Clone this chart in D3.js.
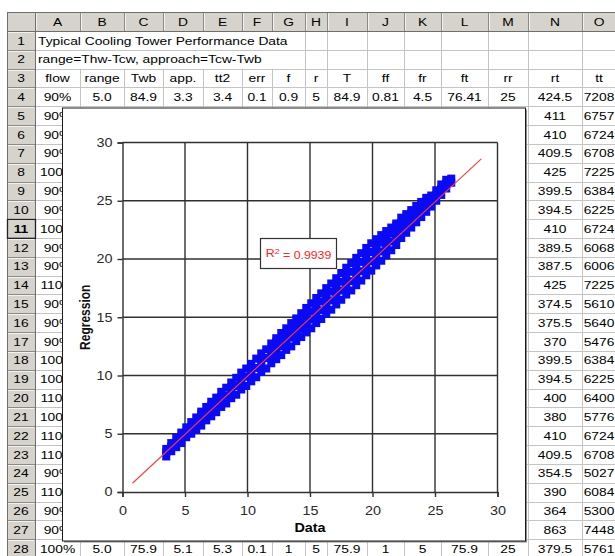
<!DOCTYPE html>
<html>
<head>
<meta charset="utf-8">
<script src="https://cdn.jsdelivr.net/npm/d3@7/dist/d3.min.js"></script>
<style>
  html, body { margin: 0; padding: 0; background: #fff; }
  svg { display: block; font-family: "Liberation Sans", Arial, sans-serif; }
</style>
</head>
<body>
<svg id="sheet" width="615" height="556"></svg>
<script>
// ---- worksheet contents ----
const columnLetters = ["A","B","C","D","E","F","G","H","I","J","K","L","M","N","O"];
const columnEdges   = [35, 80, 124, 163, 203, 242, 272, 305, 327, 367, 404, 441, 488, 528, 582, 616];
const titleText  = "Typical Cooling Tower Performance Data";
const noteText   = "range=Thw-Tcw, approach=Tcw-Twb";
const headerRow  = ["flow","range","Twb","app.","tt2","err","f","r","T","ff","fr","ft","rr","rt","tt"];
const firstRow   = ["90%","5.0","84.9","3.3","3.4","0.1","0.9","5","84.9","0.81","4.5","76.41","25","424.5","7208"];
const lastRow    = ["100%","5.0","75.9","5.1","5.3","0.1","1","5","75.9","1","5","75.9","25","379.5","5761"];
// rows 5..27, columns A, N, O
const flowCol = ["90%","90%","90%","100%","90%","90%","100%","90%","90%","110%","90%","90%","90%",
                 "100%","100%","110%","100%","110%","110%","90%","110%","90%","90%"];
const rtCol   = ["411","410","409.5","425","399.5","394.5","410","389.5","387.5","425","374.5","375.5","370",
                 "399.5","394.5","400","380","410","409.5","354.5","390","364","863"];
const ttCol   = ["6757","6724","6708","7225","6384","6225","6724","6068","6006","7225","5610","5640","5476",
                 "6384","6225","6400","5776","6724","6708","5027","6084","5300","7448"];

// ---- chart data: measured value (x) against regression estimate (y) ----
const axisTicks = [0, 5, 10, 15, 20, 25, 30];
const dataX = [3.5,3.9,4.3,4.7,5.1,5.5,5.9,6.3,6.7,7.1,7.5,7.9,8.3,8.7,9.1,9.5,9.9,10.3,10.7,11.1,
               11.5,11.9,12.3,12.7,13.1,13.5,13.9,14.3,14.7,15.1,15.5,15.9,16.3,16.7,17.1,17.5,17.9,
               18.3,18.7,19.1,19.5,19.9,20.3,20.7,21.1,21.5,21.9,22.3,22.7,23.1,23.5,23.9,24.3,24.7,
               25.1,25.5,25.9,26.3];
const regY = [
  [3.05,3.4,3.7],[3.5,3.9,4.2],[3.85,4.25,4.65],[4.2,4.75,5.1],[4.7,5.05,5.55],[5.0,5.6,6.0],
  [5.35,5.9,6.4],[5.7,6.2,6.7,6.9],[6.15,6.75,7.3],[6.5,6.95,7.4,7.75],[6.85,7.5,8.1],
  [7.3,7.7,8.15,8.6],[7.6,8.25,8.95],[8.05,8.5,9.0,9.4],[8.35,9.1,9.8],[8.8,9.25,9.75,10.25],
  [9.1,9.9,10.6],[9.5,10.0,10.5,11.0],[9.85,10.65,11.45],[10.3,10.8,11.35,11.9],[10.6,11.5,12.25],
  [11.05,11.6,12.2,12.75],[11.4,11.9,12.4,12.9,13.2],[11.75,12.5,13.15,13.65],
  [12.2,12.65,13.15,13.65,14.05],[12.5,13.25,13.9,14.5],[12.95,13.45,14.0,14.5,14.9],
  [13.3,14.0,14.65,15.35],[13.7,14.2,14.75,15.3,15.8],[14.05,14.8,15.5,16.2],
  [14.5,15.05,15.6,16.15,16.65],[14.85,15.6,16.35,17.05],[15.3,15.85,16.4,17.0,17.5],
  [15.65,16.45,17.2,17.9],[16.1,16.65,17.25,17.85,18.35],[16.5,17.3,18.05,18.8],
  [16.95,17.5,18.1,18.7,19.25],[17.3,18.1,18.9,19.65],[17.75,18.35,18.95,19.55,20.1],
  [18.15,18.95,19.75,20.5],[18.6,19.2,19.8,20.4,20.95],[19.0,19.8,20.6,21.35],
  [19.45,20.05,20.65,21.25,21.7],[19.85,20.65,21.4,22.05],[20.3,20.9,21.5,22.1,22.4],
  [20.75,21.5,22.2,22.7],[21.2,21.75,22.3,22.85,23.05],[21.8,22.5,23.1,23.55],
  [22.25,22.8,23.35,23.85],[22.7,23.35,23.9,24.2],[23.15,23.65,24.15,24.55],
  [23.6,24.2,24.7,24.9],[24.05,24.5,24.95,25.25],[24.5,25.05,25.45],[25.0,25.5,25.9],
  [25.5,26.0,26.4],[26.05,26.5,26.8],[26.55,26.9]
];
const trendX = [0.8, 28.7];
const trendY = [0.75, 28.6];
const rSquared = "0.9939";

// ---- layout ----
const W = 615, H = 556;
const headerTop = 12, headerH = 19, rowH = 18.82;
const rowHeadL = 7, rowHeadR = 35;
const stretch = 1.2;
const rowTop = k => headerTop + headerH + (k - 1) * rowH;
const rowMid = k => rowTop(k) + rowH / 2;
const colMid = i => (columnEdges[i] + columnEdges[i + 1]) / 2;

const svg = d3.select("#sheet");

function label(g, x, y, str, opt = {}) {
  return g.append("text")
    .attr("transform", `translate(${x},${y}) scale(${opt.sx || stretch},1)`)
    .attr("text-anchor", opt.anchor || "middle")
    .attr("dy", "0.36em")
    .attr("font-size", opt.size || 11.5)
    .attr("font-weight", opt.weight || "normal")
    .attr("fill", opt.fill || "#000")
    .text(str);
}

svg.append("rect").attr("width", W).attr("height", H).attr("fill", "#fff");

// ---- cell grid ----
const grid = svg.append("g").attr("stroke", "#c4c4c4").attr("stroke-width", 1);
for (let k = 2; k <= 29; k++) {
  const y = Math.round(rowTop(k)) + 0.5;
  grid.append("line").attr("x1", rowHeadR).attr("x2", W).attr("y1", y).attr("y2", y);
}
columnEdges.slice(1).forEach((e, i) => {
  const hidden = i <= 5; // long text in rows 1-2 runs over these edges
  const x = Math.round(e) + 0.5;
  grid.append("line").attr("x1", x).attr("x2", x)
    .attr("y1", hidden ? rowTop(3) : rowTop(1)).attr("y2", H);
});

// ---- headers ----
const hdr = svg.append("g");
hdr.append("rect").attr("x", rowHeadL).attr("y", headerTop).attr("width", W - rowHeadL).attr("height", headerH)
  .attr("fill", "#d6d3cc");
hdr.append("rect").attr("x", rowHeadL).attr("y", headerTop).attr("width", rowHeadR - rowHeadL).attr("height", H - headerTop)
  .attr("fill", "#d6d3cc");
columnEdges.forEach(e => {
  hdr.append("line").attr("x1", Math.round(e) + 0.5).attr("x2", Math.round(e) + 0.5)
    .attr("y1", headerTop).attr("y2", headerTop + headerH).attr("stroke", "#8a8a8a");
  hdr.append("line").attr("x1", Math.round(e) + 1.5).attr("x2", Math.round(e) + 1.5)
    .attr("y1", headerTop + 1).attr("y2", headerTop + headerH - 1).attr("stroke", "#fff").attr("stroke-opacity", 0.7);
});
for (let k = 1; k <= 29; k++) {
  const y = Math.round(rowTop(k)) + 0.5;
  hdr.append("line").attr("x1", rowHeadL).attr("x2", rowHeadR).attr("y1", y).attr("y2", y).attr("stroke", "#8a8a8a");
  hdr.append("line").attr("x1", rowHeadL + 1).attr("x2", rowHeadR - 1).attr("y1", y + 1).attr("y2", y + 1)
    .attr("stroke", "#fff").attr("stroke-opacity", 0.7);
}
hdr.append("line").attr("x1", rowHeadL).attr("x2", W).attr("y1", headerTop + 0.5).attr("y2", headerTop + 0.5).attr("stroke", "#6e6e6e");
hdr.append("line").attr("x1", rowHeadL + 0.5).attr("x2", rowHeadL + 0.5).attr("y1", headerTop).attr("y2", H).attr("stroke", "#6e6e6e");
hdr.append("line").attr("x1", rowHeadR + 0.5).attr("x2", rowHeadR + 0.5).attr("y1", headerTop).attr("y2", H).attr("stroke", "#6e6e6e");
hdr.append("line").attr("x1", rowHeadL).attr("x2", W).attr("y1", headerTop + headerH + 0.5).attr("y2", headerTop + headerH + 0.5).attr("stroke", "#6e6e6e");
// active row marker
hdr.append("rect").attr("x", rowHeadL + 0.5).attr("y", Math.round(rowTop(11)) + 0.5).attr("width", rowHeadR - rowHeadL)
  .attr("height", rowH).attr("fill", "none").attr("stroke", "#222").attr("stroke-width", 1.3);

columnLetters.forEach((c, i) => label(hdr, colMid(i), headerTop + headerH / 2, c, { size: 11.5 }));
for (let k = 1; k <= 28; k++) {
  label(hdr, (rowHeadL + rowHeadR) / 2, rowMid(k), String(k), { weight: k === 11 ? "bold" : "normal" });
}

// ---- cell values ----
const cells = svg.append("g");
label(cells, 38, rowMid(1), titleText, { anchor: "start" });
label(cells, 38, rowMid(2), noteText, { anchor: "start" });
headerRow.forEach((t, i) => label(cells, colMid(i), rowMid(3), t));
firstRow.forEach((t, i) => label(cells, colMid(i), rowMid(4), t));
lastRow.forEach((t, i) => label(cells, colMid(i), rowMid(28), t));
flowCol.forEach((t, j) => label(cells, colMid(0), rowMid(5 + j), t));
rtCol.forEach((t, j) => label(cells, colMid(13), rowMid(5 + j), t));
ttCol.forEach((t, j) => label(cells, colMid(14), rowMid(5 + j), t));

// ---- embedded chart ----
const box = { x: 62, y: 107.5, w: 463, h: 433 };
const chart = svg.append("g");
chart.append("rect").attr("x", box.x + 2).attr("y", box.y + 2).attr("width", box.w).attr("height", box.h)
  .attr("fill", "#8c8c8c");
chart.append("rect").attr("x", box.x + 0.5).attr("y", box.y + 0.5).attr("width", box.w).attr("height", box.h)
  .attr("fill", "#fff").attr("stroke", "#1a1a1a").attr("stroke-width", 1);

const x = d3.scaleLinear().domain([0, 30]).range([122.5, 497.5]);
const y = d3.scaleLinear().domain([0, 30]).range([492, 142.5]);

// gridlines
const gl = chart.append("g").attr("stroke", "#303030").attr("stroke-width", 1.4);
axisTicks.slice(1).forEach(t => {
  gl.append("line").attr("x1", x(t)).attr("x2", x(t)).attr("y1", y(0)).attr("y2", y(30));
  gl.append("line").attr("x1", x(0)).attr("x2", x(30)).attr("y1", y(t)).attr("y2", y(t));
});

// axes
const yAxis = chart.append("g").attr("transform", `translate(${x(0)},0)`)
  .call(d3.axisLeft(y).tickValues(axisTicks).tickSize(5).tickPadding(5).tickFormat(d3.format("d")));
const xAxis = chart.append("g").attr("transform", `translate(0,${y(0)})`)
  .call(d3.axisBottom(x).tickValues(axisTicks).tickSize(5).tickPadding(9).tickFormat(d3.format("d")));
[yAxis, xAxis].forEach(a => {
  a.select(".domain").attr("stroke", "#303030").attr("stroke-width", 1.4);
  a.selectAll(".tick line").attr("stroke", "#303030").attr("stroke-width", 1.4);
  a.selectAll(".tick text").attr("font-size", 12).attr("fill", "#2a2a2a")
    .attr("font-family", "Liberation Sans, Arial, sans-serif");
});
yAxis.selectAll(".tick text").each(function () {
  const t = d3.select(this);
  const tx = +t.attr("x");
  t.attr("x", tx / stretch).attr("transform", `scale(${stretch},1)`);
});
xAxis.selectAll(".tick text").attr("transform", `scale(${stretch},1)`);

// axis titles
label(chart, (x(0) + x(30)) / 2, 527.5, "Data", { weight: "bold", size: 12 });
chart.append("text")
  .attr("transform", `translate(85,${(y(0) + y(30)) / 2}) scale(1.15,1) rotate(-90)`)
  .attr("text-anchor", "middle").attr("dy", "0.36em")
  .attr("font-size", 12).attr("font-weight", "bold").attr("fill", "#111")
  .text("Regression");

// scatter points
const points = dataX.flatMap((xv, i) => regY[i].map(yv => [xv, yv]));
const m = 8;
chart.append("g").selectAll("rect").data(points).join("rect")
  .attr("x", d => x(d[0]) - m / 2).attr("y", d => y(d[1]) - m / 2)
  .attr("width", m).attr("height", m)
  .attr("fill", "#0a0af5");

// linear trendline
chart.append("line")
  .attr("x1", x(trendX[0])).attr("y1", y(trendY[0]))
  .attr("x2", x(trendX[1])).attr("y2", y(trendY[1]))
  .attr("stroke", "#ff3a3a").attr("stroke-width", 1.1);

// R-squared label
const rb = { x: 260.5, y: 238.5, w: 76, h: 30 };
chart.append("rect").attr("x", rb.x).attr("y", rb.y).attr("width", rb.w).attr("height", rb.h)
  .attr("fill", "#fff").attr("stroke", "#333").attr("stroke-width", 1.2);
const rt = chart.append("text")
  .attr("transform", `translate(${rb.x + rb.w / 2},${rb.y + rb.h / 2}) scale(1.12,1)`)
  .attr("text-anchor", "middle").attr("dy", "0.36em")
  .attr("font-size", 11).attr("fill", "#ff2020");
rt.append("tspan").text("R");
rt.append("tspan").attr("dy", "-0.45em").attr("font-size", 8).text("2");
rt.append("tspan").attr("dy", "0.45em").text(" = " + rSquared);
</script>
</body>
</html>
